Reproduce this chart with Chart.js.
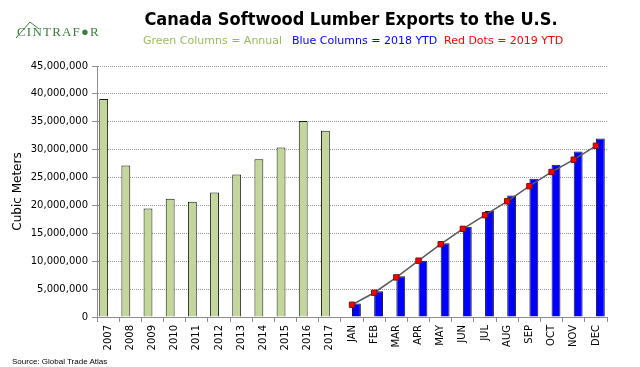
<!DOCTYPE html>
<html>
<head>
<meta charset="utf-8">
<script src="https://cdn.jsdelivr.net/npm/chart.js@4"></script>
<style>
    body { margin: 0; background: #fff; }
    #wrap { position: relative; width: 640px; height: 367px; overflow: hidden; font-family: Tahoma, "DejaVu Sans", sans-serif; }
    #chart { position: absolute; left: 0; top: 0; }
    .title { position: absolute; left: 101px; top: 8px; width: 500px; text-align: center; font: bold 18px "DejaVu Sans Condensed", "Liberation Sans", sans-serif; font-stretch: condensed; color: #000; white-space: nowrap; }
    .sub { position: absolute; top: 34px; font: 11px "DejaVu Sans", sans-serif; white-space: nowrap; }
    .logo { position: absolute; left: 17px; top: 24px; font: 13px "Liberation Serif", serif; color: #3c7d3c; letter-spacing: 1.2px; }
    .roof { position: absolute; left: 15px; top: 20px; }
    .source { position: absolute; left: 12px; top: 357px; font: 8px "Liberation Sans", sans-serif; color: #000; }
</style>
</head>
<body>
<div id="wrap">
    <canvas id="chart" width="640" height="367"></canvas>
    <div class="title">Canada Softwood Lumber Exports to the U.S.</div>
    <div class="sub" style="left:143px;color:#9bbb59">Green Columns = Annual</div>
    <div class="sub" style="left:292px;color:#0000ff">Blue Columns = 2018 YTD</div>
    <div class="sub" style="left:444px;color:#ff0000">Red Dots = 2019 YTD</div>
    <svg class="roof" width="26" height="20"><polyline points="1,18 15,2 24,9" fill="none" stroke="#3c7d3c" stroke-width="1"/></svg>
    <div class="logo">CINTRAF&#9679;R</div>
    <div class="source">Source: Global Trade Atlas</div>
</div>
<script>
// categories
const years = ['2007', '2008', '2009', '2010', '2011', '2012', '2013', '2014', '2015', '2016', '2017'];
const months = ['JAN', 'FEB', 'MAR', 'APR', 'MAY', 'JUN', 'JUL', 'AUG', 'SEP', 'OCT', 'NOV', 'DEC'];

// cubic meters
const annual = [39100000, 27150000, 19450000, 21200000, 20650000, 22300000, 25550000, 28300000, 30400000, 35150000, 33400000];
const ytd2018 = [2400000, 4600000, 7300000, 10100000, 13200000, 16200000, 19000000, 21800000, 24800000, 27300000, 29650000, 32000000];
const ytd2019 = [2200000, 4350000, 7100000, 10100000, 13050000, 15800000, 18250000, 20750000, 23450000, 26000000, 28200000, 30700000];

const yTicks = [0, 5000000, 10000000, 15000000, 20000000, 25000000, 30000000, 35000000, 40000000, 45000000];

const labels = years.concat(months);
const pad = (n) => Array(n).fill(null);

const tickFont = { family: 'DejaVu Sans', size: 10 };

new Chart(document.getElementById('chart'), {
    data: {
        labels: labels,
        datasets: [
            {
                type: 'line',
                label: '2019 YTD',
                data: pad(years.length).concat(ytd2019),
                borderColor: '#5a5a5a',
                borderWidth: 1.5,
                pointStyle: 'rect',
                pointRadius: 3.8,
                pointBackgroundColor: '#ff0000',
                pointBorderColor: '#7a1010',
                pointBorderWidth: 1,
                order: 0,
            },
            {
                // green left slot, blue right slot
                type: 'bar',
                label: 'Annual',
                data: annual.concat(pad(months.length)),
                backgroundColor: '#c4d79b',
                borderColor: '#1a1a1a',
                borderWidth: 1,
                categoryPercentage: 0.8,
                barPercentage: 1.0,
                order: 1,
            },
            {
                type: 'bar',
                label: '2018 YTD',
                data: pad(years.length).concat(ytd2018),
                backgroundColor: '#0000ff',
                borderColor: '#1a1a1a',
                borderWidth: 1,
                categoryPercentage: 0.8,
                barPercentage: 1.0,
                order: 2,
            },
        ]
    },
    options: {
        responsive: false,
        animation: false,
        layout: { padding: { top: 66, right: 33, left: 11, bottom: 0 } },
        plugins: { legend: { display: false }, tooltip: { enabled: false } },
        scales: {
            x: {
                offset: true,
                grid: { offset: true, drawOnChartArea: false, drawTicks: true, tickLength: 5, color: '#8c8c8c' },
                border: { color: '#8c8c8c', width: 1 },
                ticks: { font: tickFont, color: '#000', minRotation: 90, maxRotation: 90, autoSkip: false, padding: 3 },
                afterFit: (scale) => { scale.height = 50; },
            },
            y: {
                min: 0,
                max: 45000000,
                afterBuildTicks: (scale) => { scale.ticks = yTicks.map(v => ({ value: v })); },
                grid: { color: '#9a9a9a', tickLength: 5, tickColor: '#8c8c8c', tickBorderDash: [] },
                border: { color: '#8c8c8c', width: 1, dash: [1, 1] },
                ticks: { font: tickFont, color: '#000', padding: 4, callback: (v) => v.toLocaleString('en-US') },
                title: { display: true, text: 'Cubic Meters', font: { family: 'DejaVu Sans', size: 12 }, color: '#000', padding: { top: 0, bottom: 4 } },
                afterFit: (scale) => { scale.width = 86; },
            }
        }
    }
});
</script>
</body>
</html>
